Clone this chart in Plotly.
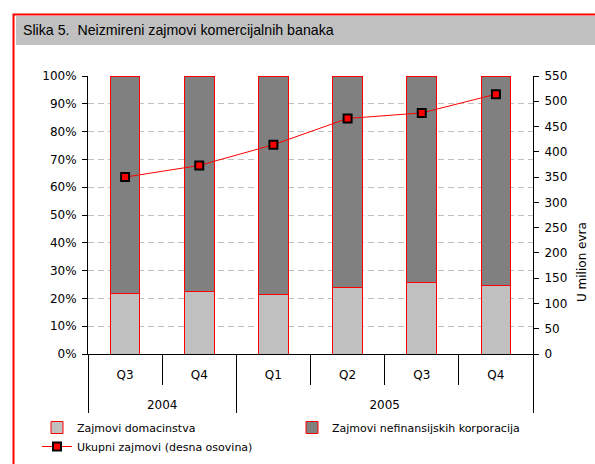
import plotly.graph_objects as go

years = ["2004", "2004", "2005", "2005", "2005", "2005"]
quarters = ["Q3", "Q4", "Q1", "Q2", "Q3", "Q4"]
households_share = [0.218, 0.224, 0.215, 0.239, 0.258, 0.245]
corporate_share = [1 - v for v in households_share]
total_loans = [350, 373, 414, 466, 477, 514]

W, H = 595, 464
L, R, T, B = 88, 62, 76, 110
pw, ph = W - L - R, H - T - B

def px_x(p):
    return (p - L) / pw

def px_y(p):
    return (H - B - p) / ph

FONT = "DejaVu Sans"
# outer level: year (shifted down one line); inner level: quarter.
# Invisible padding spans make the quarter row taller (pushing the year row down)
# and empty spans keep each key unique so plotly keeps chronological order.
PAD = "<span style='font-size:19px'> </span>"
year_labels = ["<br>" + y for y in years]
quarter_keys = [PAD + q + PAD + "<span></span>" * i for i, q in enumerate(quarters)]
x = [year_labels, quarter_keys]

fig = go.Figure()
fig.add_trace(go.Bar(
    x=x, y=households_share, name="Zajmovi domacinstva",
    marker=dict(color="#c0c0c0", line=dict(color="#ff0000", width=1)),
    width=0.4,
))
fig.add_trace(go.Bar(
    x=x, y=corporate_share, name="Zajmovi nefinansijskih korporacija",
    marker=dict(color="#808080", line=dict(color="#ff0000", width=1)),
    width=0.4,
))
fig.add_trace(go.Scatter(
    x=x, y=total_loans, name="Ukupni zajmovi (desna osovina)", yaxis="y2",
    mode="lines+markers",
    line=dict(color="#ff0000", width=1),
    marker=dict(symbol="square", size=8, color="#ff0000", line=dict(color="#000000", width=2)),
))

fig.update_layout(
    width=W, height=H,
    margin=dict(l=L, r=R, t=T, b=B, pad=0, autoexpand=False),
    paper_bgcolor="white", plot_bgcolor="white",
    barmode="stack",
    font=dict(family=FONT, size=12, color="#000000"),
    showlegend=True,
    legend=dict(
        orientation="h", xref="paper", yref="paper",
        x=px_x(37), y=px_y(413), xanchor="left", yanchor="top",
        entrywidth=210, entrywidthmode="pixels",
        font=dict(family=FONT, size=11), tracegroupgap=0,
        itemwidth=30, traceorder="normal",
    ),
    xaxis=dict(
        type="multicategory",
        showline=True, linecolor="#000000", linewidth=1, automargin=False,
        ticks="outside", tickson="boundaries", ticklen=30, tickcolor="#000000",
        showdividers=True, dividercolor="#000000", dividerwidth=1,
        showgrid=False, tickfont=dict(size=12), ticklabelstandoff=10,
    ),
    yaxis=dict(
        range=[0, 1], dtick=0.1, tickformat=".0%", showline=True, automargin=False,
        linecolor="#000000", linewidth=1, ticks="outside", ticklen=5,
        tickcolor="#000000", showgrid=True, gridcolor="#c0c0c0",
        griddash="6px,4px", gridwidth=1, zeroline=False, tickfont=dict(size=12),
        ticklabelstandoff=3,
    ),
    yaxis2=dict(
        range=[0, 550], dtick=50, overlaying="y", side="right", automargin=False,
        showline=True, linecolor="#000000", linewidth=1, ticks="outside",
        ticklen=5, tickcolor="#000000", showgrid=False, zeroline=False,
        tickfont=dict(size=12), ticklabelstandoff=3,
    ),
    shapes=[
        dict(type="rect", xref="paper", yref="paper",
             x0=px_x(16), x1=px_x(600), y0=px_y(45), y1=px_y(16),
             fillcolor="#c0c0c0", line=dict(width=0), layer="below"),
        dict(type="rect", xref="paper", yref="paper",
             x0=px_x(13.5), x1=px_x(610), y0=px_y(480), y1=px_y(14.5),
             fillcolor="rgba(0,0,0,0)", line=dict(color="#ff0000", width=2)),
    ],
    annotations=[
        dict(text="Slika 5.  Neizmireni zajmovi komercijalnih banaka",
             xref="paper", yref="paper", x=px_x(21), y=px_y(30.5),
             showarrow=False, xanchor="left", yanchor="middle",
             font=dict(family="Liberation Sans", size=14.2)),
        dict(text="U milion evra", textangle=-90, xref="paper", yref="paper",
             x=px_x(582), y=px_y(262), showarrow=False,
             xanchor="center", yanchor="middle", font=dict(family=FONT, size=12)),
    ],
)

fig.write_html(
    "out.html",
    config={"displayModeBar": False},
    post_script="document.body.style.margin='0';document.body.style.overflow='hidden';",
)
